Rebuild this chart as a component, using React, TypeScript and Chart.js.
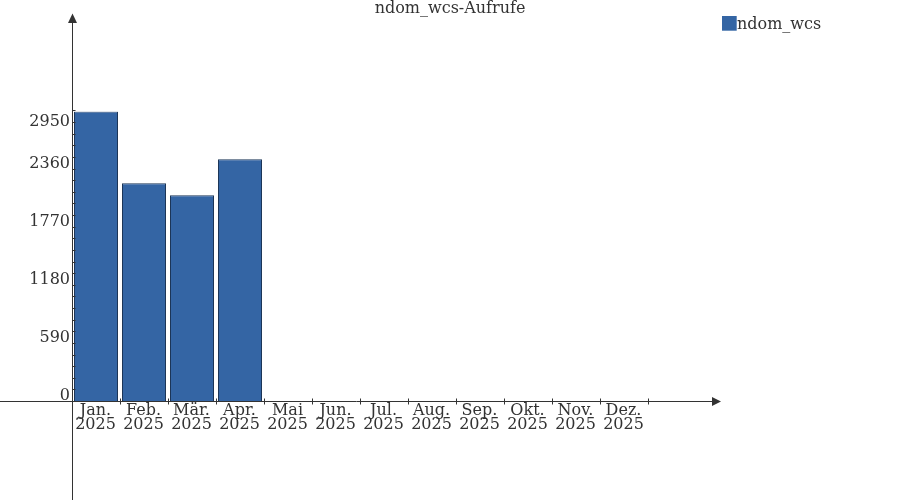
import React, { useEffect, useRef } from "react";
import { Chart, registerables } from "chart.js";

Chart.register(...registerables);

const chartTitle = "ndom_wcs-Aufrufe";
const seriesName = "ndom_wcs";
const months = ["Jan.", "Feb.", "Mär.", "Apr.", "Mai", "Jun.", "Jul.", "Aug.", "Sep.", "Okt.", "Nov.", "Dez."];
const year = "2025";
const values = [2950, 2220, 2098, 2465, 0, 0, 0, 0, 0, 0, 0, 0];
const yTicks = [0, 590, 1180, 1770, 2360, 2950];
const minorStep = 118;

const FONT = "16px 'DejaVu Serif'";
const TEXT = "#333333";
const AXIS = "#333333";
const FILL = "#3465a4";
const EDGE = "#1c3557";

const axesPlugin = {
  id: "customAxes",
  afterDraw(chart: any) {
    const ctx = chart.ctx as CanvasRenderingContext2D;
    const xs = chart.scales.x;
    const ys = chart.scales.y;
    const area = chart.chartArea;
    const W = chart.width;
    const H = chart.height;
    ctx.save();
    ctx.strokeStyle = AXIS;
    ctx.fillStyle = AXIS;
    ctx.lineWidth = 1;

    const y0 = Math.round(ys.getPixelForValue(0)) - 0.5;
    const x0 = Math.round(area.left) + 0.5;

    // x axis line
    ctx.beginPath();
    ctx.moveTo(0, y0);
    ctx.lineTo(713, y0);
    ctx.stroke();
    ctx.beginPath();
    ctx.moveTo(721, y0);
    ctx.lineTo(712, y0 - 4.5);
    ctx.lineTo(712, y0 + 4.5);
    ctx.closePath();
    ctx.fill();

    // y axis line
    ctx.beginPath();
    ctx.moveTo(x0, H);
    ctx.lineTo(x0, 22);
    ctx.stroke();
    ctx.beginPath();
    ctx.moveTo(x0, 13.5);
    ctx.lineTo(x0 - 4.5, 23);
    ctx.lineTo(x0 + 4.5, 23);
    ctx.closePath();
    ctx.fill();

    // y ticks (minor + major)
    const maxV = yTicks[yTicks.length - 1];
    for (let v = 0; v <= maxV + 0.001; v += minorStep) {
      const py = Math.round(ys.getPixelForValue(v)) - 0.5;
      ctx.beginPath();
      ctx.moveTo(x0, py);
      ctx.lineTo(x0 + 3, py);
      ctx.stroke();
    }

    // x ticks at category boundaries
    const n = chart.data.labels.length;
    for (let i = 0; i <= n; i++) {
      const px = Math.round(xs.getPixelForValue(i - 0.5)) + 0.5;
      ctx.beginPath();
      ctx.moveTo(px, y0 - 3);
      ctx.lineTo(px, y0 + 3);
      ctx.stroke();
    }

    // y labels
    ctx.fillStyle = TEXT;
    ctx.font = FONT;
    ctx.textAlign = "right";
    ctx.textBaseline = "alphabetic";
    yTicks.forEach((v, i) => {
      const py = ys.getPixelForValue(v);
      const by = i === yTicks.length - 1 ? py + 14.3 : py - 1.6;
      ctx.fillText(String(v), 70, by);
    });

    // x labels
    ctx.textAlign = "center";
    chart.data.labels.forEach((lab: string[], i: number) => {
      const px = xs.getPixelForValue(i) - 0.5;
      ctx.fillText(lab[0], px, 415);
      ctx.fillText(lab[1], px, 429);
    });

    // title
    ctx.fillText(chartTitle, W / 2, 13);

    // legend
    const ds = chart.data.datasets[0];
    ctx.fillStyle = ds.backgroundColor;
    ctx.fillRect(722, 16, 14.7, 14.7);
    ctx.fillStyle = TEXT;
    ctx.textAlign = "left";
    ctx.fillText(ds.label, 737, 29);

    ctx.restore();
  },
};

export default function App() {
  const ref = useRef<HTMLCanvasElement | null>(null);
  useEffect(() => {
    if (!ref.current) return;
    const chart = new Chart(ref.current, {
      type: "bar",
      data: {
        labels: months.map((m) => [m, year]),
        datasets: [
          {
            label: seriesName,
            data: values,
            backgroundColor: FILL,
            borderColor: EDGE,
            borderWidth: 1,
            barPercentage: 1,
            categoryPercentage: 44 / 48,
          },
        ],
      },
      options: {
        animation: false,
        responsive: false,
        devicePixelRatio: 1,
        layout: { padding: { left: 72, right: 900 - 72 - 576, top: 111.4, bottom: 98 } },
        scales: {
          x: { display: false, grid: { display: false } },
          y: { display: false, min: 0, max: yTicks[yTicks.length - 1], grid: { display: false } },
        },
        plugins: { legend: { display: false }, title: { display: false }, tooltip: { enabled: false } },
      },
      plugins: [axesPlugin],
    });
    return () => chart.destroy();
  }, []);
  return (
    <div style={{ position: "absolute", left: 0, top: 0, width: 900, height: 500, background: "#fff" }}>
      <canvas ref={ref} width={900} height={500} style={{ display: "block" }} />
    </div>
  );
}
